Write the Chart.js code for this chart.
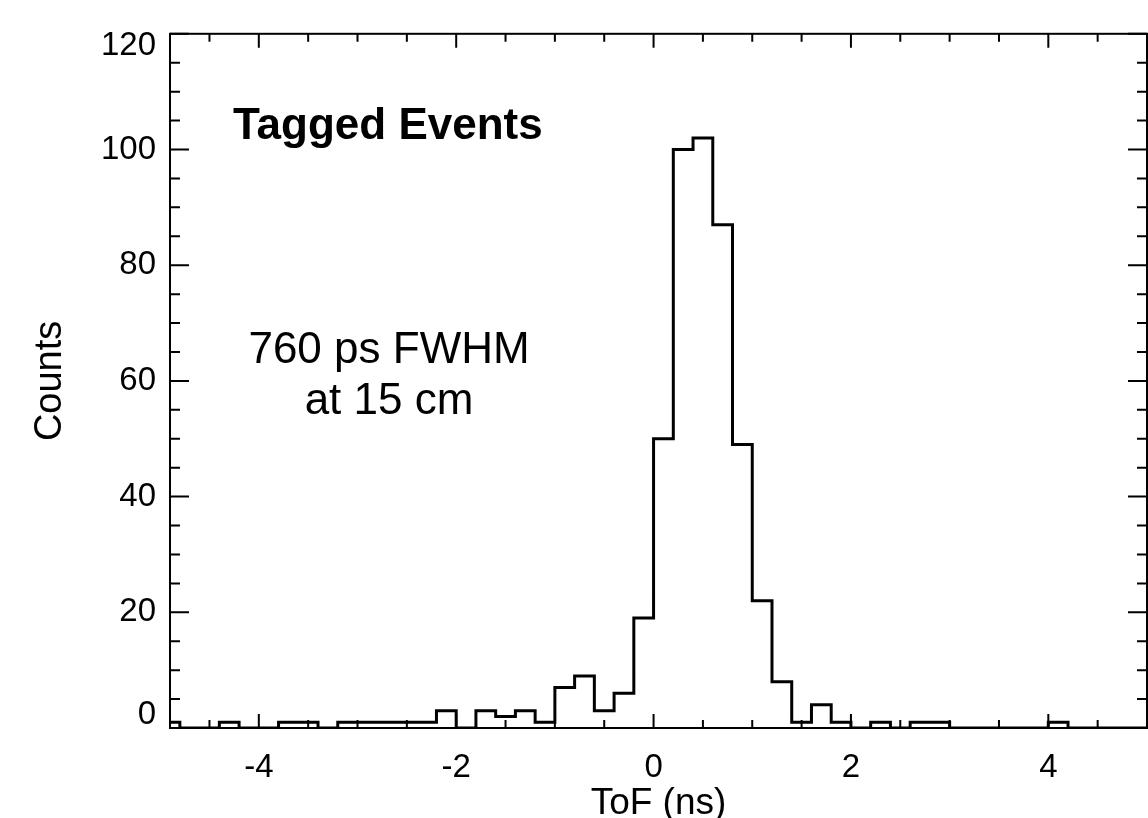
<!DOCTYPE html>
<html>
<head>
<meta charset="utf-8">
<title>Tagged Events ToF</title>
<script src="https://cdn.jsdelivr.net/npm/chart.js@4.4.1/dist/chart.umd.min.js"></script>
<style>
  html, body { margin: 0; padding: 0; background: #fff; }
  #wrap { width: 1148px; height: 818px; position: relative; }
</style>
</head>
<body>
<div id="wrap"><canvas id="tofChart"></canvas></div>
<script>
// Histogram bin edges (ns), 0.2 ns wide
const binEdges = [
    -5.0, -4.8, -4.6, -4.4, -4.2, -4.0, -3.8, -3.6, -3.4, -3.2,
    -3.0, -2.8, -2.6, -2.4, -2.2, -2.0, -1.8, -1.6, -1.4, -1.2,
    -1.0, -0.8, -0.6, -0.4, -0.2, 0.0, 0.2, 0.4, 0.6, 0.8,
    1.0, 1.2, 1.4, 1.6, 1.8, 2.0, 2.2, 2.4, 2.6, 2.8,
    3.0, 3.2, 3.4, 3.6, 3.8, 4.0, 4.2, 4.4, 4.6, 4.8, 5.0
];
// Counts per bin (one fewer than edges)
const counts = [
    1, 0, 0, 1, 0, 0, 1, 1, 0, 1,
    1, 1, 1, 1, 3, 0, 3, 2, 3, 1,
    7, 9, 3, 6, 19, 50, 100, 102, 87, 49,
    22, 8, 1, 4, 1, 0, 1, 0, 1, 1,
    0, 0, 0, 0, 0, 1, 0, 0, 0, 0
];

const xMajorTicks = [-4, -2, 0, 2, 4];
const xMinorTicks = [-4.5, -3.5, -3, -2.5, -1.5, -1, -0.5, 0.5, 1, 1.5, 2.5, 3, 3.5, 4.5];
const yMajorTicks = [0, 20, 40, 60, 80, 100, 120];
const yMinorTicks = [5, 10, 15, 25, 30, 35, 45, 50, 55, 65, 70, 75, 85, 90, 95, 105, 110, 115];

const xLabel = 'ToF (ns)';
const yLabel = 'Counts';
const titleText = 'Tagged Events';
const noteLines = ['760 ps FWHM', 'at 15 cm'];

const FONT = '"Liberation Sans", Arial, Helvetica, sans-serif';

// step points: each bin's left edge with its count, plus the final right edge
const stepPoints = counts.map((c, i) => ({ x: binEdges[i], y: c }));
stepPoints.push({ x: binEdges[binEdges.length - 1], y: counts[counts.length - 1] });

// end labels (0 and 120) sit nudged inside the frame, like IDL does
const yMin = yMajorTicks[0];
const yMax = yMajorTicks[yMajorTicks.length - 1];

// Frame with inward ticks on all four sides
const frameTicks = {
    id: 'frameTicks',
    afterDatasetsDraw(chart) {
        const { ctx, chartArea: a, scales: { x, y } } = chart;
        ctx.save();
        ctx.strokeStyle = '#000';
        ctx.lineWidth = 2;
        ctx.strokeRect(a.left, a.top, a.right - a.left, a.bottom - a.top);

        const xTick = (vals, len) => {
            vals.forEach(v => {
                const px = x.getPixelForValue(v);
                ctx.beginPath();
                ctx.moveTo(px, a.bottom); ctx.lineTo(px, a.bottom - len);
                ctx.moveTo(px, a.top); ctx.lineTo(px, a.top + len);
                ctx.stroke();
            });
        };
        const yTick = (vals, len) => {
            vals.forEach(v => {
                const py = y.getPixelForValue(v);
                ctx.beginPath();
                ctx.moveTo(a.left, py); ctx.lineTo(a.left + len, py);
                ctx.moveTo(a.right, py); ctx.lineTo(a.right - len, py);
                ctx.stroke();
            });
        };
        xTick(xMajorTicks, 14);
        xTick(xMinorTicks, 8);
        yTick(yMajorTicks, 19);
        yTick(yMinorTicks, 10);
        ctx.restore();
    }
};

// Text inside the plot + the two shifted end labels
const notes = {
    id: 'notes',
    afterDraw(chart) {
        const { ctx, chartArea: a, scales: { y } } = chart;
        ctx.save();
        ctx.fillStyle = '#000';
        ctx.textBaseline = 'alphabetic';
        ctx.font = 'bold 44px ' + FONT;
        ctx.textAlign = 'left';
        ctx.fillText(titleText, a.left + 63, a.top + 105);

        ctx.font = '44px ' + FONT;
        ctx.textAlign = 'center';
        ctx.fillText(noteLines[0], a.left + 219, a.top + 329);
        ctx.fillText(noteLines[1], a.left + 219, a.top + 380);

        ctx.font = '33px ' + FONT;
        ctx.textAlign = 'right';
        ctx.textBaseline = 'middle';
        ctx.fillText(String(yMax), a.left - 14, y.getPixelForValue(yMax) + 12);
        ctx.fillText(String(yMin), a.left - 14, y.getPixelForValue(yMin) - 13);
        ctx.restore();
    }
};

new Chart(document.getElementById('tofChart'), {
    type: 'line',
    data: {
        datasets: [{
            data: stepPoints,
            stepped: 'before',
            borderColor: '#000',
            borderWidth: 3,
            pointRadius: 0,
            fill: false,
            clip: 0
        }]
    },
    options: {
        responsive: true,
        maintainAspectRatio: false,
        animation: false,
        layout: { padding: { top: 28, right: 1, left: 0, bottom: 0 } },
        plugins: {
            legend: { display: false },
            tooltip: { enabled: false }
        },
        scales: {
            x: {
                type: 'linear',
                min: -4.9,
                max: 5.0,
                grid: { display: false, drawTicks: false },
                border: { display: false },
                afterBuildTicks: scale => { scale.ticks = xMajorTicks.map(v => ({ value: v })); },
                afterFit: scale => { scale.height = 90; },
                ticks: {
                    color: '#000',
                    padding: 20,
                    maxRotation: 0,
                    font: { family: FONT, size: 33 }
                },
                title: {
                    display: true,
                    text: xLabel,
                    color: '#000',
                    padding: 0,
                    font: { family: FONT, size: 37, lineHeight: 0.77 }
                }
            },
            y: {
                type: 'linear',
                min: yMin,
                max: yMax,
                grid: { display: false, drawTicks: false },
                border: { display: false },
                afterBuildTicks: scale => { scale.ticks = yMajorTicks.map(v => ({ value: v })); },
                afterFit: scale => { scale.width = 170; },
                ticks: {
                    color: '#000',
                    padding: 14,
                    font: { family: FONT, size: 33 },
                    callback: v => (v === yMin || v === yMax) ? '' : v
                },
                title: {
                    display: true,
                    text: yLabel,
                    color: '#000',
                    padding: { top: 28, bottom: 0 },
                    font: { family: FONT, size: 38 }
                }
            }
        }
    },
    plugins: [frameTicks, notes]
});
</script>
</body>
</html>
